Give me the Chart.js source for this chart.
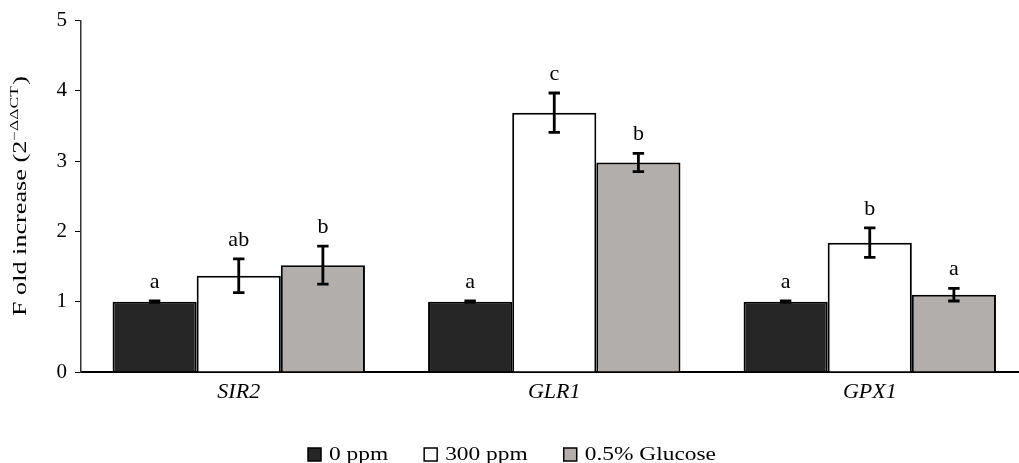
<!DOCTYPE html>
<html>
<head>
<meta charset="utf-8">
<script src="https://cdn.jsdelivr.net/npm/chart.js@4/dist/chart.umd.min.js"></script>
<style>
html,body{margin:0;padding:0;background:#fff;overflow:hidden;}
canvas{display:block;}
</style>
</head>
<body>
<canvas id="c" width="1019" height="463"></canvas>
<script>
const categories = ['SIR2', 'GLR1', 'GPX1'];
const seriesNames = ['0 ppm', '300 ppm', '0.5% Glucose'];
const ppm0 = [1.00, 1.00, 1.00];
const ppm300 = [1.37, 3.69, 1.84];
const glucose = [1.52, 2.98, 1.10];
const ppm0Err = [0.01, 0.01, 0.01];
const ppm300Err = [0.24, 0.28, 0.21];
const glucoseErr = [0.27, 0.13, 0.09];
const ppm0Letters = ['a', 'a', 'a'];
const ppm300Letters = ['ab', 'c', 'b'];
const glucoseLetters = ['b', 'b', 'a'];
const yTicks = [0, 1, 2, 3, 4, 5];
const yTitleMain = 'F old increase (2';
const yTitleSup = '\u2212\u0394\u0394CT';
const yTitleEnd = ')';

const SERIF = '"Liberation Serif", "Times New Roman", serif';
const colors = ['#262626', '#ffffff', '#b1aeac'];
const values = [ppm0, ppm300, glucose];
const errs = [ppm0Err, ppm300Err, glucoseErr];
const letters = [ppm0Letters, ppm300Letters, glucoseLetters];

const datasets = values.map((vals, s) => ({
  label: seriesNames[s],
  data: vals.map((v, i) => ({x: i, y: v})),
  backgroundColor: colors[s],
  borderColor: '#000',
  borderWidth: 2,
  borderSkipped: 'start',
  barPercentage: 1.0,
  categoryPercentage: 0.8,
  errs: errs[s],
  letters: letters[s]
}));

const errorBarPlugin = {
  id: 'errorBars',
  afterDatasetsDraw(chart) {
    const ctx = chart.ctx;
    const ys = chart.scales.y;
    chart.data.datasets.forEach((ds, di) => {
      const meta = chart.getDatasetMeta(di);
      meta.data.forEach((el, i) => {
        const v = ds.data[i].y;
        const e = ds.errs[i];
        const top = ys.getPixelForValue(v + e);
        const bot = ys.getPixelForValue(v - e);
        const x = el.x;
        ctx.save();
        ctx.strokeStyle = '#000';
        ctx.lineWidth = 2.8;
        ctx.beginPath();
        ctx.moveTo(x, top); ctx.lineTo(x, bot);
        ctx.moveTo(x - 5.7, top); ctx.lineTo(x + 5.7, top);
        ctx.moveTo(x - 5.7, bot); ctx.lineTo(x + 5.7, bot);
        ctx.stroke();
        ctx.fillStyle = '#000';
        ctx.font = '22px ' + SERIF;
        ctx.textAlign = 'center';
        ctx.textBaseline = 'alphabetic';
        ctx.fillText(ds.letters[i], x, top - 13);
        ctx.restore();
      });
    });
  }
};

const yTitlePlugin = {
  id: 'yTitle',
  afterDraw(chart) {
    const ctx = chart.ctx;
    ctx.save();
    const mainFont = '18px ' + SERIF;
    const supFont = '12px ' + SERIF;
    ctx.font = mainFont;
    const w1 = ctx.measureText(yTitleMain).width;
    const w3 = ctx.measureText(yTitleEnd).width;
    ctx.font = supFont;
    const w2 = ctx.measureText(yTitleSup).width;
    const total = w1 + w2 + 1 + w3;
    const sx = 240 / total;
    ctx.translate(26, 196);
    ctx.rotate(-Math.PI / 2);
    ctx.scale(sx, 1);
    ctx.fillStyle = '#000';
    ctx.textAlign = 'left';
    ctx.textBaseline = 'alphabetic';
    let x = -total / 2;
    ctx.font = mainFont;
    ctx.fillText(yTitleMain, x, 0);
    x += w1;
    ctx.font = supFont;
    ctx.fillText(yTitleSup, x, -8);
    x += w2 + 1;
    ctx.font = mainFont;
    ctx.fillText(yTitleEnd, x, 0);
    ctx.restore();
  }
};

const legendPlugin = {
  id: 'stretchLegend',
  afterDraw(chart) {
    const ctx = chart.ctx;
    ctx.save();
    const font = '18px ' + SERIF;
    const sx = 1.3;
    const box = 13, gap = 8, between = 36;
    ctx.font = font;
    const widths = chart.data.datasets.map(ds => ctx.measureText(ds.label).width * sx);
    let total = 0;
    widths.forEach((w, i) => { total += box + gap + w + (i < widths.length - 1 ? between : 0); });
    let x = 512 - total / 2;
    const baseline = 460;
    chart.data.datasets.forEach((ds, i) => {
      ctx.fillStyle = ds.backgroundColor;
      ctx.fillRect(x, baseline - 12, box, box);
      ctx.strokeStyle = '#000';
      ctx.lineWidth = 1.5;
      ctx.strokeRect(x, baseline - 12, box, box);
      const tx = x + box + gap;
      ctx.save();
      ctx.translate(tx, baseline);
      ctx.scale(sx, 1);
      ctx.fillStyle = '#000';
      ctx.textAlign = 'left';
      ctx.textBaseline = 'alphabetic';
      ctx.fillText(ds.label, 0, 0);
      ctx.restore();
      x = tx + widths[i] + between;
    });
    ctx.restore();
  }
};

new Chart(document.getElementById('c'), {
  type: 'bar',
  data: { datasets },
  options: {
    responsive: false,
    devicePixelRatio: 1,
    animation: false,
    layout: { padding: { left: 41, top: 15, right: 0, bottom: 0 } },
    plugins: {
      tooltip: { enabled: false },
      legend: { display: false }
    },
    scales: {
      x: {
        type: 'linear',
        offset: false,
        min: -0.5,
        max: 2.473,
        afterBuildTicks(scale) {
          scale.ticks = categories.map((c, i) => ({ value: i }));
        },
        afterFit(scale) { scale.height = 91; },
        ticks: {
          autoSkip: false,
          maxRotation: 0,
          padding: 7,
          color: '#000',
          font: { family: SERIF, size: 22, style: 'italic' },
          callback: (v) => (Number.isInteger(v) && categories[v] !== undefined) ? categories[v] : ''
        },
        grid: { display: false, drawTicks: false, offset: false },
        border: { display: true, color: '#000', width: 2 }
      },
      y: {
        min: 0,
        max: 5,
        afterBuildTicks(scale) {
          scale.ticks = yTicks.map(v => ({ value: v }));
        },
        afterFit(scale) { scale.width = 40; },
        ticks: {
          color: '#000',
          padding: 8,
          font: { family: SERIF, size: 21 }
        },
        grid: { display: true, drawOnChartArea: false, drawTicks: true, tickLength: 6, color: '#000', lineWidth: 1 },
        border: { display: true, color: '#333', width: 1.5 }
      }
    }
  },
  plugins: [errorBarPlugin, yTitlePlugin, legendPlugin]
});
</script>
</body>
</html>
